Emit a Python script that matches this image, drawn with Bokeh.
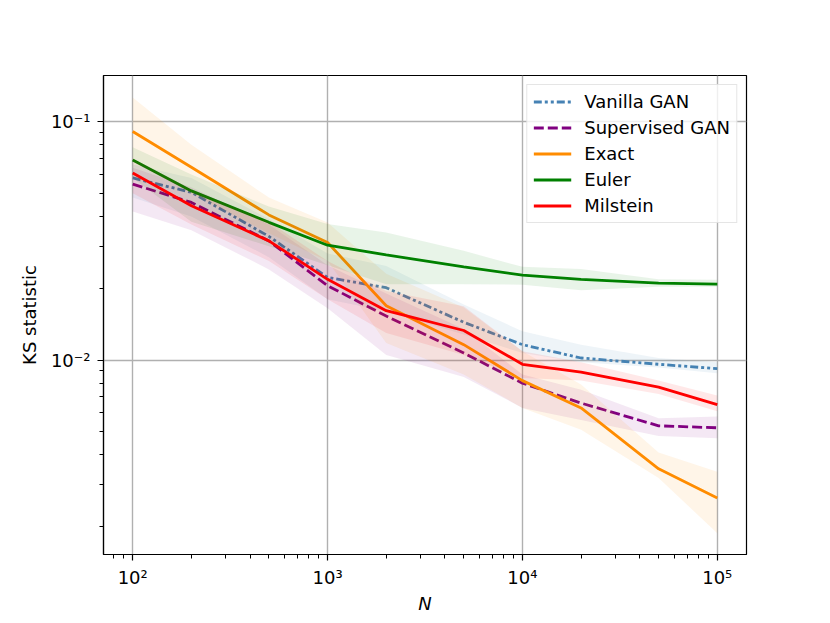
from bokeh.plotting import figure
from bokeh.models import FixedTicker, Range1d, Legend, LegendItem, ColumnDataSource
from bokeh.embed import file_html
from bokeh.resources import INLINE

N = [100, 200, 500, 1000, 2000, 5000, 10000, 20000, 50000, 100000]

vanilla_mean = [0.058, 0.0505, 0.033, 0.0222, 0.0201, 0.0144, 0.0116, 0.0102, 0.0096, 0.0092]
vanilla_lo = [0.048, 0.040, 0.027, 0.018, 0.016, 0.0128, 0.0107, 0.0098, 0.0093, 0.0088]
vanilla_hi = [0.066, 0.058, 0.039, 0.028, 0.0248, 0.0171, 0.0132, 0.0116, 0.0102, 0.0098]

supervised_mean = [0.0547, 0.0458, 0.0316, 0.0205, 0.0153, 0.0107, 0.0080, 0.0066, 0.0053, 0.0052]
supervised_lo = [0.042, 0.035, 0.024, 0.0165, 0.0105, 0.0085, 0.0063, 0.0056, 0.0048, 0.0047]
supervised_hi = [0.064, 0.053, 0.037, 0.025, 0.019, 0.0135, 0.0087, 0.0075, 0.0057, 0.0058]

exact_mean = [0.0908, 0.0643, 0.0406, 0.0311, 0.0169, 0.0116, 0.0082, 0.0063, 0.0035, 0.00264]
exact_lo = [0.068, 0.050, 0.034, 0.026, 0.0118, 0.0087, 0.0063, 0.0051, 0.0032, 0.00188]
exact_hi = [0.126, 0.080, 0.048, 0.0377, 0.023, 0.0166, 0.0109, 0.0079, 0.0041, 0.0034]

euler_mean = [0.069, 0.0512, 0.0378, 0.0303, 0.0276, 0.0246, 0.0227, 0.0218, 0.0210, 0.0208]
euler_lo = [0.058, 0.038, 0.030, 0.025, 0.0208, 0.0208, 0.0207, 0.0196, 0.0203, 0.0203]
euler_hi = [0.078, 0.060, 0.044, 0.0372, 0.0343, 0.0287, 0.0246, 0.0241, 0.0218, 0.0217]

milstein_mean = [0.0608, 0.0444, 0.0316, 0.0218, 0.0161, 0.0133, 0.0096, 0.0089, 0.0077, 0.0065]
milstein_lo = [0.050, 0.037, 0.026, 0.018, 0.013, 0.0105, 0.0084, 0.0082, 0.0072, 0.0061]
milstein_hi = [0.070, 0.052, 0.038, 0.026, 0.0195, 0.0168, 0.0109, 0.0098, 0.0082, 0.0071]

series_names = ["Vanilla GAN", "Supervised GAN", "Exact", "Euler", "Milstein"]
series_colors = ["#4682b4", "#800080", "#ff8c00", "#008000", "#ff0000"]
series_dash = ["8 3 3 3 3 3", "10 4", "solid", "solid", "solid"]

x_major = [100, 1000, 10000, 100000]
x_major_labels = ["10\u00b2", "10\u00b3", "10\u2074", "10\u2075"]
y_major = [0.01, 0.1]
y_major_labels = ["10\u207b\u00b2", "10\u207b\u00b9"]

FONT = "DejaVu Sans"

p = figure(frame_width=643, frame_height=479, x_axis_type="log", y_axis_type="log",
           x_range=Range1d(70.8, 141254), y_range=Range1d(0.00153, 0.156),
           output_backend="svg", toolbar_location=None,
           min_border_left=103, min_border_right=76, min_border_top=75, min_border_bottom=58)

p.background_fill_color = "white"
p.border_fill_color = "white"
p.outline_line_color = "black"
p.outline_line_width = 1.2

x_minor = []
for dec in [10, 100, 1000, 10000, 100000]:
    for k in range(2, 10):
        x_minor.append(dec * k)
y_minor = []
for dec in [0.001, 0.01, 0.1]:
    for k in range(2, 10):
        y_minor.append(round(dec * k, 6))

p.xaxis.ticker = FixedTicker(ticks=x_major, minor_ticks=x_minor)
p.yaxis.ticker = FixedTicker(ticks=y_major, minor_ticks=y_minor)
p.xaxis.major_label_overrides = {t: l for t, l in zip(x_major, x_major_labels)}
p.yaxis.major_label_overrides = {t: l for t, l in zip(y_major, y_major_labels)}

for ax in (p.xaxis, p.yaxis):
    ax.axis_line_color = "black"
    ax.axis_line_width = 1.2
    ax.major_tick_out = 6
    ax.major_tick_in = 0
    ax.minor_tick_out = 4
    ax.minor_tick_in = 0
    ax.major_tick_line_width = 1.2
    ax.minor_tick_line_width = 1.0
    ax.major_label_text_font = FONT
    ax.major_label_text_font_size = "18px"
    ax.major_label_text_color = "black"
    ax.axis_label_text_font = FONT
    ax.axis_label_text_font_size = "18px"
    ax.axis_label_text_font_style = "normal"
    ax.axis_label_text_color = "black"

p.xaxis.axis_label = "N"
p.xaxis.axis_label_text_font_style = "italic"
p.xaxis.major_label_standoff = 6
p.xaxis.axis_label_standoff = 2
p.yaxis.axis_label = "KS statistic"
p.yaxis.major_label_standoff = 7
p.yaxis.axis_label_standoff = 8

p.xgrid.grid_line_color = "#b0b0b0"
p.ygrid.grid_line_color = "#b0b0b0"
p.xgrid.grid_line_width = 1.4
p.ygrid.grid_line_width = 1.4

means = [vanilla_mean, supervised_mean, exact_mean, euler_mean, milstein_mean]
los = [vanilla_lo, supervised_lo, exact_lo, euler_lo, milstein_lo]
his = [vanilla_hi, supervised_hi, exact_hi, euler_hi, milstein_hi]

items = []
for name, color, dash, m, lo, hi in zip(series_names, series_colors, series_dash, means, los, his):
    src = ColumnDataSource(dict(x=N, m=m, lo=lo, hi=hi))
    r = p.line("x", "m", source=src, line_color=color, line_width=2.8, line_dash=dash)
    p.varea(x="x", y1="lo", y2="hi", source=src, fill_color=color, fill_alpha=0.09)
    items.append(LegendItem(label=name, renderers=[r]))

legend = Legend(items=items, location="top_right")
legend.margin = 9
legend.padding = 6
legend.spacing = 5
legend.glyph_width = 38
legend.glyph_height = 21
legend.label_height = 21
legend.label_standoff = 13
legend.label_text_font = FONT
legend.label_text_font_size = "18px"
legend.label_text_color = "black"
legend.border_line_color = "#cccccc"
legend.border_line_width = 1.2
legend.background_fill_color = "white"
legend.background_fill_alpha = 0.8
p.add_layout(legend)

open("out.html", "w").write(file_html(p, INLINE))
